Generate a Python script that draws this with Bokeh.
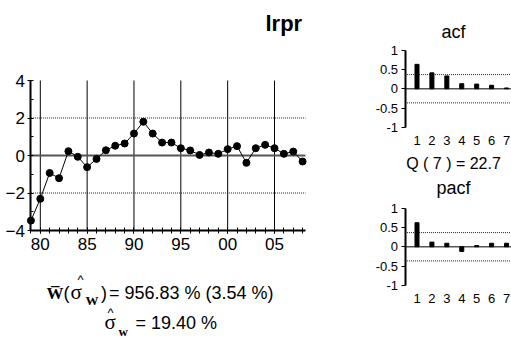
from bokeh.plotting import figure
from bokeh.models import FixedTicker, Label, Range1d, LinearAxis
from bokeh.embed import file_html
from bokeh.resources import INLINE

# ---- data -------------------------------------------------------------
years = list(range(1979, 2009))
values = [-3.47, -2.31, -0.93, -1.21, 0.23, -0.07, -0.62, -0.18, 0.28, 0.52,
          0.64, 1.17, 1.80, 1.17, 0.69, 0.69, 0.39, 0.27, 0.03, 0.16,
          0.09, 0.34, 0.50, -0.39, 0.39, 0.57, 0.39, 0.09, 0.21, -0.32]
year_ticks = [1980, 1985, 1990, 1995, 2000, 2005]
year_labels = ["80", "85", "90", "95", "00", "05"]
value_ticks = [-4, -2, 0, 2, 4]
value_minor = [-3, -1, 1, 3]

lags = [1, 2, 3, 4, 5, 6, 7]
acf = [0.63, 0.41, 0.33, 0.13, 0.12, 0.09, 0.02]
pacf = [0.62, 0.12, 0.09, -0.12, 0.03, 0.09, 0.09]
corr_ticks = [-1, -0.5, 0, 0.5, 1]
corr_labels = ["-1", "-0.5", "0", "0.5", "1"]
conf_band = 0.365
q_stat = "Q ( 7 ) = 22.7"

series_name = "lrpr"
mean_text = "= 956.83 % (3.54 %)"
sd_text = "= 19.40 %"

SANS = "Liberation Sans"
SERIF = "Liberation Serif"
W, H = 511, 338

# One canvas; default ranges are page pixels (y grows downwards) and each
# panel gets its own pair of extra ranges.
p = figure(width=W, height=H, output_backend="svg", toolbar_location=None,
           x_range=Range1d(0, W), y_range=Range1d(H, 0),
           x_axis_type=None, y_axis_type=None,
           min_border=0, min_border_left=0, min_border_right=0,
           min_border_top=0, min_border_bottom=0,
           title=None, outline_line_color=None,
           background_fill_color="white", border_fill_color="white")
p.grid.visible = False


def span_x(v_a, px_a, v_b, px_b):
    k = (v_b - v_a) / (px_b - px_a)
    return Range1d(v_a - px_a * k, v_a + (W - px_a) * k)


def span_y(v_a, py_a, v_b, py_b):
    k = (v_b - v_a) / (py_b - py_a)
    return Range1d(v_a + (H - py_a) * k, v_a - py_a * k)


p.extra_x_ranges = {"year": span_x(1980, 39.8, 2005, 274.0),
                    "lag": span_x(1, 416.5, 7, 506.0)}
p.extra_y_ranges = {"val": span_y(4, 80, -4, 230),
                    "acf": span_y(1, 49.5, -1, 127),
                    "pacf": span_y(1, 207.5, -1, 285)}
X_END = 2008.3      # right end of the series panel
LAG_END = p.extra_x_ranges["lag"].end
LAG_AXIS = 0.2      # where the correlogram value axis sits


def style_axis(ax, size):
    ax.axis_line_color = "black"
    ax.axis_line_width = 2
    ax.major_tick_line_color = "black"
    ax.minor_tick_line_color = "black"
    ax.major_label_text_font = SANS
    ax.major_label_text_font_size = size
    ax.major_label_text_color = "black"


# ---- series panel -------------------------------------------------------
xa = LinearAxis(x_range_name="year", y_range_name="val", fixed_location=-4,
                bounds=(years[0], X_END),
                ticker=FixedTicker(ticks=year_ticks, minor_ticks=years),
                major_label_overrides={t: s for t, s in zip(year_ticks, year_labels)})
style_axis(xa, "17px")
xa.major_tick_in, xa.major_tick_out = 3, 3
xa.minor_tick_in, xa.minor_tick_out = 3, 3
xa.major_label_standoff = 4
p.add_layout(xa, "below")

ya = LinearAxis(x_range_name="year", y_range_name="val", fixed_location=years[0],
                bounds=(value_ticks[0], value_ticks[-1]),
                ticker=FixedTicker(ticks=value_ticks, minor_ticks=value_minor))
style_axis(ya, "17px")
ya.major_tick_in, ya.major_tick_out = 3, 3
ya.minor_tick_in, ya.minor_tick_out = 3, 0
ya.major_label_standoff = 3
p.add_layout(ya, "left")

n = len(year_ticks)
p.segment(x0=year_ticks, x1=year_ticks, y0=[value_ticks[0]] * n, y1=[value_ticks[-1]] * n,
          x_range_name="year", y_range_name="val", line_color="black", line_width=1)
p.segment(x0=[years[0]] * 2, x1=[X_END] * 2, y0=[2, -2], y1=[2, -2],
          x_range_name="year", y_range_name="val",
          line_color="#222222", line_width=1, line_dash="1 1")
p.segment(x0=[years[0]], x1=[X_END], y0=[0], y1=[0],
          x_range_name="year", y_range_name="val", line_color="#555555", line_width=2)

p.line(years, values, x_range_name="year", y_range_name="val",
       line_color="black", line_width=1)
p.scatter(years, values, x_range_name="year", y_range_name="val",
          size=7, color="black")


# ---- correlograms ---------------------------------------------------------
def correlogram(vals, yname):
    ax = LinearAxis(x_range_name="lag", y_range_name=yname, fixed_location=LAG_AXIS,
                    bounds=(-1, 1), ticker=FixedTicker(ticks=corr_ticks, minor_ticks=[]),
                    major_label_overrides={t: s for t, s in zip(corr_ticks, corr_labels)})
    style_axis(ax, "13px")
    ax.major_tick_in, ax.major_tick_out = 0, 4
    ax.major_label_standoff = 3
    p.add_layout(ax, "left")

    lx = LinearAxis(x_range_name="lag", y_range_name=yname, fixed_location=-1,
                    ticker=FixedTicker(ticks=lags, minor_ticks=[]))
    style_axis(lx, "13px")
    lx.axis_line_color = None
    lx.major_tick_line_color = None
    lx.minor_tick_line_color = None
    lx.major_label_standoff = 2
    p.add_layout(lx, "below")

    p.segment(x0=[LAG_AXIS], x1=[LAG_END], y0=[0], y1=[0],
              x_range_name="lag", y_range_name=yname, line_color="#555555", line_width=1.5)
    p.segment(x0=[LAG_AXIS] * 2, x1=[LAG_END] * 2, y0=[conf_band, -conf_band],
              y1=[conf_band, -conf_band], x_range_name="lag", y_range_name=yname,
              line_color="#222222", line_width=1, line_dash="1 1")
    p.vbar(x=lags, top=vals, bottom=0, width=0.27, x_range_name="lag",
           y_range_name=yname, color="black")


correlogram(acf, "acf")
correlogram(pacf, "pacf")


# ---- texts (page pixel coordinates, py = baseline) ------------------------
def put(px, py, text, size, font=SANS, style="normal", align="left"):
    # Label anchors sit a third of an em above the drawn baseline
    p.add_layout(Label(x=px, y=py - 0.33 * size, text=text, text_font=font,
                       text_font_size=f"{size}px", text_font_style=style,
                       text_align=align, text_baseline="alphabetic",
                       text_color="black"))


put(265, 30, series_name, 22, style="bold")
put(453, 37, "acf", 18, align="center")
put(453, 168, q_stat, 16, align="center")
put(453, 193.5, "pacf", 18, align="center")

# W-bar(sigma-hat_W) = mean (s.e.)
put(46, 298.5, "W\u0305", 17, font=SERIF, style="bold")
put(63, 298.5, "(", 18)
put(70, 298.5, "\u03c3", 21, font=SERIF)
put(80, 283, "^", 13, align="center")
put(85, 304, "W", 13, font=SERIF, style="bold")
put(100.5, 298.5, ")", 18)
put(108.5, 298.5, mean_text, 18)
# sigma-hat_w = std
put(104, 328.5, "\u03c3", 21, font=SERIF)
put(110, 316.5, "^", 13, align="center")
put(118, 335, "w", 13, font=SERIF, style="bold")
put(135, 328.5, sd_text, 18)

open("out.html", "w").write(file_html(p, INLINE))
